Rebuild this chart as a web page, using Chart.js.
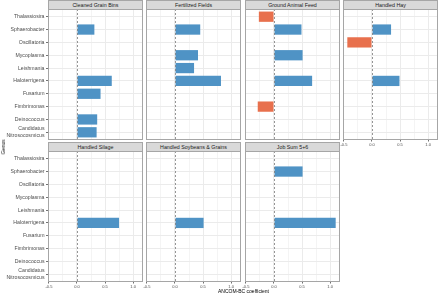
<!DOCTYPE html>
<html><head><meta charset="utf-8">
<script src="https://cdn.jsdelivr.net/npm/chart.js@4.4.1/dist/chart.umd.min.js"></script>
<style>
html,body{margin:0;padding:0;background:#fff;width:440px;height:294px;overflow:hidden;font-family:"Liberation Sans",Arial,sans-serif;}
.box{position:absolute;}
.strip{position:absolute;box-sizing:border-box;background:#d9d9d9;border:1px solid #a6a6a6;color:#1a1a1a;font-size:5.3px;text-align:center;line-height:8px;white-space:nowrap;}
.lab{position:absolute;color:#000;font-size:5px;white-space:nowrap;transform:translate(-50%,-50%);}
</style></head><body>
<script>
// ---- data ----
const genera = ['Thalassiosira','Sphaerobacter','Oscillatoria','Mycoplasma','Leishmania','Haloterrigena','Fusarium','Fimbrimonas','Deinococcus','Candidatus\nNitrosocosmicus'];
const panelNames = ['Cleaned Grain Bins','Fertilized Fields','Ground Animal Feed','Handled Hay','Handled Silage','Handled Soybeans & Grains','Job Sum 5+6'];
const cleanedGrainBins = [null,0.31,null,null,null,0.62,0.42,null,0.36,0.35];
const fertilizedFields = [null,0.45,null,0.41,0.34,0.82,null,null,null,null];
const groundAnimalFeed = [-0.27,0.49,null,0.51,null,0.68,null,-0.29,null,null];
const handledHay = [null,0.34,-0.44,null,null,0.49,null,null,null,null];
const handledSilage = [null,null,null,null,null,0.75,null,null,null,null];
const handledSoybeans = [null,null,null,null,null,0.51,null,null,null,null];
const jobSum56 = [null,0.51,null,null,null,1.10,null,null,null,null];
const xTickValues = [-0.5,-0.25,0,0.25,0.5,0.75,1.0];
const xMajorTicks = [-0.5,0,0.5,1.0];
const xMin = -0.517, xMax = 1.177;

const panelValues = [cleanedGrainBins,fertilizedFields,groundAnimalFeed,handledHay,handledSilage,handledSoybeans,jobSum56];

// ---- layout ----
const colLeft = [48,146,245,343];
const PW = 95, PH = 131;
const rowTop = [9,151];
const stripTop = [0,142];
const BLUE = '#4f93c5', RED = '#e8704d';
const FONT = '"Liberation Sans", Arial, sans-serif';

const decor = {
  id:'decor',
  afterDatasetsDraw(chart){
    const {ctx, chartArea:a, scales:{x}} = chart;
    const zx = Math.round(x.getPixelForValue(0)) + 0.5;
    ctx.save();
    ctx.strokeStyle = '#7a7a7a'; ctx.lineWidth = 0.8; ctx.setLineDash([2,2]);
    ctx.beginPath(); ctx.moveTo(zx, a.top); ctx.lineTo(zx, a.bottom); ctx.stroke();
    ctx.setLineDash([]);
    ctx.strokeStyle = '#a6a6a6'; ctx.lineWidth = 1;
    ctx.strokeRect(Math.round(a.left)+0.5, Math.round(a.top)+0.5, Math.round(a.right-a.left)-1, Math.round(a.bottom-a.top)-1);
    ctx.restore();
  }
};

const isMajor = v => xMajorTicks.some(m => Math.abs(m - v) < 1e-9);

panelNames.forEach((name, i) => {
  const col = i % 4, row = Math.floor(i / 4);
  const isLeft = col === 0;
  const showX = i + 4 >= panelNames.length;
  const strip = document.createElement('div');
  strip.className = 'strip';
  strip.style.left = colLeft[col] + 'px';
  strip.style.top = stripTop[row] + 'px';
  strip.style.width = PW + 'px';
  strip.style.height = (rowTop[row] - stripTop[row] + 1) + 'px';
  strip.textContent = name;
  document.body.appendChild(strip);

  const padL = isLeft ? 0 : 5, padR = 5;
  const xH = showX ? 7 : 0;
  const box = document.createElement('div');
  box.className = 'box';
  box.style.left = (isLeft ? 0 : colLeft[col] - padL) + 'px';
  box.style.top = (rowTop[row] - 1) + 'px';
  box.style.width = ((isLeft ? colLeft[col] : padL) + PW + padR) + 'px';
  box.style.height = (PH + 2 + xH) + 'px';
  const cv = document.createElement('canvas');
  box.appendChild(cv);
  document.body.appendChild(box);

  const vals = panelValues[i];
  const data = vals.map((v, k) => v === null ? null : {x: v, y: k}).filter(d => d);

  new Chart(cv, {
    type: 'bar',
    data: { datasets: [{
      data,
      backgroundColor: c => (c.raw && c.raw.x < 0) ? RED : BLUE,
      borderWidth: 0,
      barPercentage: 0.8,
      categoryPercentage: 1
    }]},
    options: {
      indexAxis: 'y',
      responsive: true, maintainAspectRatio: false, animation: false,
      layout: { autoPadding: false, padding: {left: padL, right: padR, top: 1, bottom: 1} },
      plugins: { legend: {display: false}, tooltip: {enabled: false} },
      scales: {
        x: {
          type: 'linear', min: xMin, max: xMax,
          afterBuildTicks: s => { s.ticks = xTickValues.map(v => ({value: v})); },
          afterFit: s => { s.height = xH; s.paddingLeft = 0; s.paddingRight = 0; s.paddingTop = 0; s.paddingBottom = 0; },
          border: {display: false},
          grid: {
            color: c => isMajor(c.tick.value) ? '#ebebeb' : '#f4f4f4',
            lineWidth: 1,
            drawTicks: showX, tickLength: 1.5,
            tickColor: c => isMajor(c.tick.value) ? '#333333' : 'rgba(0,0,0,0)',
            tickWidth: 0.7
          },
          ticks: {
            display: showX, autoSkip: false, maxRotation: 0, minRotation: 0, padding: 0.5,
            color: '#4d4d4d', font: {family: FONT, size: 4},
            callback: v => isMajor(v) ? v.toFixed(1) : ''
          }
        },
        y: {
          type: 'linear', min: -0.6, max: 9.6, reverse: true, offset: false,
          afterBuildTicks: s => { s.ticks = genera.map((g, k) => ({value: k})); },
          afterFit: s => { s.width = isLeft ? colLeft[0] : 0; s.paddingTop = 0; s.paddingBottom = 0; s.paddingLeft = 0; s.paddingRight = 0; },
          border: {display: false},
          grid: {
            offset: false, color: '#ebebeb', lineWidth: 1,
            drawTicks: isLeft, tickLength: 2, tickColor: '#333333', tickWidth: 0.7
          },
          ticks: {
            display: isLeft, autoSkip: false, padding: 1.5,
            color: '#4d4d4d', font: {family: FONT, size: 5.2, lineHeight: 1.25},
            callback: v => { const g = genera[v]; return g && g.includes('\n') ? g.split('\n') : g; }
          }
        }
      }
    },
    plugins: [decor]
  });
});

const t1 = document.createElement('div');
t1.className = 'lab'; t1.textContent = 'ANCOM-BC coefficient';
t1.style.left = '243.5px'; t1.style.top = '291px';
document.body.appendChild(t1);
const t2 = document.createElement('div');
t2.className = 'lab'; t2.textContent = 'Genus';
t2.style.left = '3px'; t2.style.top = '147px';
t2.style.transform = 'translate(-50%,-50%) rotate(-90deg)';
document.body.appendChild(t2);
</script>
</body></html>
